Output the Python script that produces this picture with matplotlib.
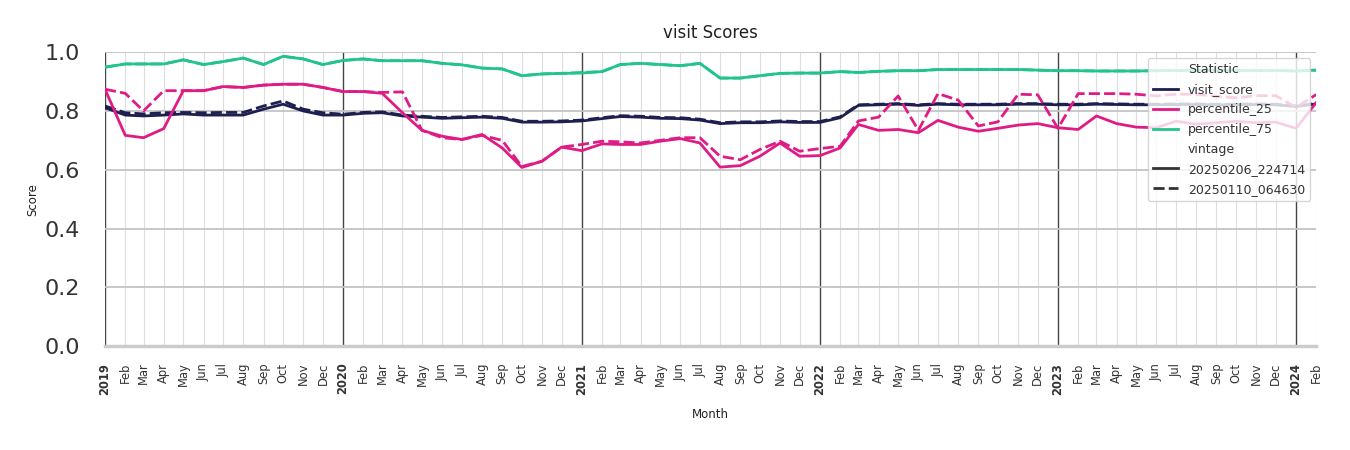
import numpy as np
import pandas as pd
import matplotlib
matplotlib.use('Agg')
import matplotlib.pyplot as plt
import matplotlib.dates as mdates
from matplotlib.lines import Line2D

months = pd.date_range('2019-01-01', '2024-02-01', freq='MS')

visit_new = [0.811, 0.786, 0.783, 0.786, 0.790, 0.786, 0.786, 0.786, 0.806, 0.823, 0.800, 0.786,
             0.786, 0.792, 0.794, 0.783, 0.779, 0.775, 0.777, 0.779, 0.775, 0.762, 0.762, 0.763,
             0.766, 0.774, 0.781, 0.779, 0.775, 0.774, 0.769, 0.757, 0.760, 0.760, 0.763, 0.761,
             0.761, 0.777, 0.819, 0.821, 0.823, 0.819, 0.823, 0.821, 0.821, 0.821, 0.823, 0.823,
             0.821, 0.821, 0.823, 0.822, 0.821, 0.821, 0.822, 0.822, 0.821, 0.821, 0.822, 0.821,
             0.815, 0.824]
visit_old = [0.817, 0.794, 0.790, 0.794, 0.795, 0.794, 0.795, 0.795, 0.817, 0.834, 0.806, 0.794,
             0.789, 0.795, 0.797, 0.786, 0.782, 0.778, 0.780, 0.782, 0.778, 0.765, 0.765, 0.766,
             0.769, 0.777, 0.784, 0.782, 0.778, 0.777, 0.772, 0.760, 0.763, 0.763, 0.766, 0.764,
             0.764, 0.780, 0.821, 0.823, 0.825, 0.821, 0.825, 0.823, 0.823, 0.823, 0.825, 0.825,
             0.823, 0.823, 0.825, 0.824, 0.823, 0.823, 0.824, 0.824, 0.823, 0.823, 0.824, 0.823,
             0.817, 0.826]

p25_new = [0.874, 0.717, 0.709, 0.740, 0.869, 0.869, 0.883, 0.880, 0.888, 0.891, 0.891, 0.880,
           0.866, 0.866, 0.860, 0.794, 0.734, 0.714, 0.703, 0.720, 0.674, 0.608, 0.629, 0.677,
           0.665, 0.688, 0.686, 0.686, 0.697, 0.706, 0.691, 0.609, 0.614, 0.646, 0.691, 0.646,
           0.648, 0.674, 0.754, 0.734, 0.737, 0.726, 0.768, 0.745, 0.731, 0.741, 0.752, 0.757,
           0.743, 0.737, 0.783, 0.757, 0.745, 0.743, 0.765, 0.755, 0.760, 0.765, 0.760, 0.762,
           0.741, 0.829]
p25_old = [0.874, 0.860, 0.800, 0.869, 0.869, 0.869, 0.883, 0.880, 0.888, 0.891, 0.891, 0.880,
           0.866, 0.866, 0.863, 0.865, 0.734, 0.709, 0.703, 0.717, 0.700, 0.611, 0.629, 0.677,
           0.686, 0.697, 0.695, 0.691, 0.700, 0.709, 0.709, 0.646, 0.634, 0.669, 0.697, 0.663,
           0.672, 0.680, 0.766, 0.779, 0.851, 0.734, 0.859, 0.837, 0.749, 0.763, 0.857, 0.855,
           0.741, 0.859, 0.859, 0.859, 0.857, 0.851, 0.857, 0.857, 0.850, 0.845, 0.852, 0.852,
           0.812, 0.856]

p75_new = [0.949, 0.960, 0.960, 0.960, 0.974, 0.958, 0.968, 0.980, 0.958, 0.986, 0.977, 0.958,
           0.972, 0.977, 0.971, 0.971, 0.971, 0.962, 0.957, 0.946, 0.943, 0.920, 0.926, 0.928,
           0.929, 0.934, 0.958, 0.962, 0.958, 0.954, 0.962, 0.912, 0.912, 0.920, 0.928, 0.929,
           0.929, 0.934, 0.931, 0.935, 0.937, 0.937, 0.941, 0.941, 0.941, 0.941, 0.941, 0.939,
           0.937, 0.937, 0.936, 0.936, 0.936, 0.937, 0.938, 0.938, 0.938, 0.938, 0.938, 0.938,
           0.936, 0.939]
p75_old = [0.949, 0.960, 0.960, 0.960, 0.974, 0.958, 0.968, 0.980, 0.958, 0.986, 0.977, 0.958,
           0.972, 0.977, 0.971, 0.971, 0.971, 0.962, 0.957, 0.946, 0.943, 0.920, 0.926, 0.928,
           0.931, 0.934, 0.958, 0.962, 0.958, 0.954, 0.962, 0.912, 0.912, 0.920, 0.928, 0.929,
           0.929, 0.934, 0.931, 0.935, 0.937, 0.937, 0.941, 0.941, 0.941, 0.941, 0.941, 0.939,
           0.937, 0.937, 0.936, 0.936, 0.936, 0.937, 0.938, 0.938, 0.938, 0.938, 0.938, 0.938,
           0.936, 0.939]

stats = ['visit_score', 'percentile_25', 'percentile_75']
vintages = ['20250206_224714', '20250110_064630']
series = {
    ('visit_score', vintages[0]): visit_new, ('visit_score', vintages[1]): visit_old,
    ('percentile_25', vintages[0]): p25_new, ('percentile_25', vintages[1]): p25_old,
    ('percentile_75', vintages[0]): p75_new, ('percentile_75', vintages[1]): p75_old,
}
colors = {'visit_score': '#1d1f50', 'percentile_25': '#df1b86', 'percentile_75': '#22c38e'}
styles = {vintages[0]: '-', vintages[1]: (0, (4, 1.5))}

fig = plt.figure(figsize=(13.5, 4.5), dpi=100)
ax = fig.add_axes([0.0778, 0.231, 0.8972, 0.653])

for stat in stats:
    for v in vintages:
        ax.plot(months, series[(stat, v)], color=colors[stat], linestyle=styles[v], lw=2)

ax.set_xlim(months[0], months[-1])
ax.set_ylim(0, 1.0)
ax.set_yticks(np.arange(0, 1.01, 0.2))
ax.yaxis.set_major_formatter(plt.FormatStrFormatter('%.1f'))

# years as bold major ticks, months as minor ticks
ax.xaxis.set_major_locator(mdates.YearLocator())
ax.xaxis.set_major_formatter(mdates.DateFormatter('%Y'))
ax.xaxis.set_minor_locator(mdates.MonthLocator(bymonth=range(2, 13)))
ax.xaxis.set_minor_formatter(mdates.DateFormatter('%b'))
ax.tick_params(axis='x', which='both', length=0, labelsize=8.3, rotation=90, pad=12, labelcolor='#333333')
ax.tick_params(axis='y', length=0, labelsize=16, pad=18, labelcolor='#333333')
for lbl in ax.get_xticklabels(which='major'):
    lbl.set_fontweight('bold')

ax.grid(True, which='major', axis='x', color='#444444', lw=1.0)
ax.grid(True, which='minor', axis='x', color='#dddddd', lw=0.8)
ax.grid(True, which='major', axis='y', color='#c4c4c4', lw=1.3)
ax.set_axisbelow(True)
for s in ['top', 'right', 'left']:
    ax.spines[s].set_visible(False)
ax.spines['bottom'].set_color('#cccccc')
ax.spines['bottom'].set_linewidth(2.5)

ax.set_title('visit Scores', fontsize=12, pad=10, color='#222222')
ax.set_xlabel('Month', fontsize=8.5, color='#222222', labelpad=10)
ax.set_ylabel('Score', fontsize=8.5, color='#222222')

handles = [Line2D([], [], color='none', label='Statistic')]
for stat in stats:
    handles.append(Line2D([], [], color=colors[stat], lw=2, label=stat))
handles.append(Line2D([], [], color='none', label='vintage'))
for v in vintages:
    handles.append(Line2D([], [], color='#333333', lw=2, linestyle=styles[v], label=v))
leg = ax.legend(handles=handles, loc='upper right', fontsize=9, framealpha=0.8,
                edgecolor='#cccccc', fancybox=True, labelspacing=0.55)
for t in leg.get_texts():
    t.set_color('#333333')

fig.savefig('out.png', dpi=100)
